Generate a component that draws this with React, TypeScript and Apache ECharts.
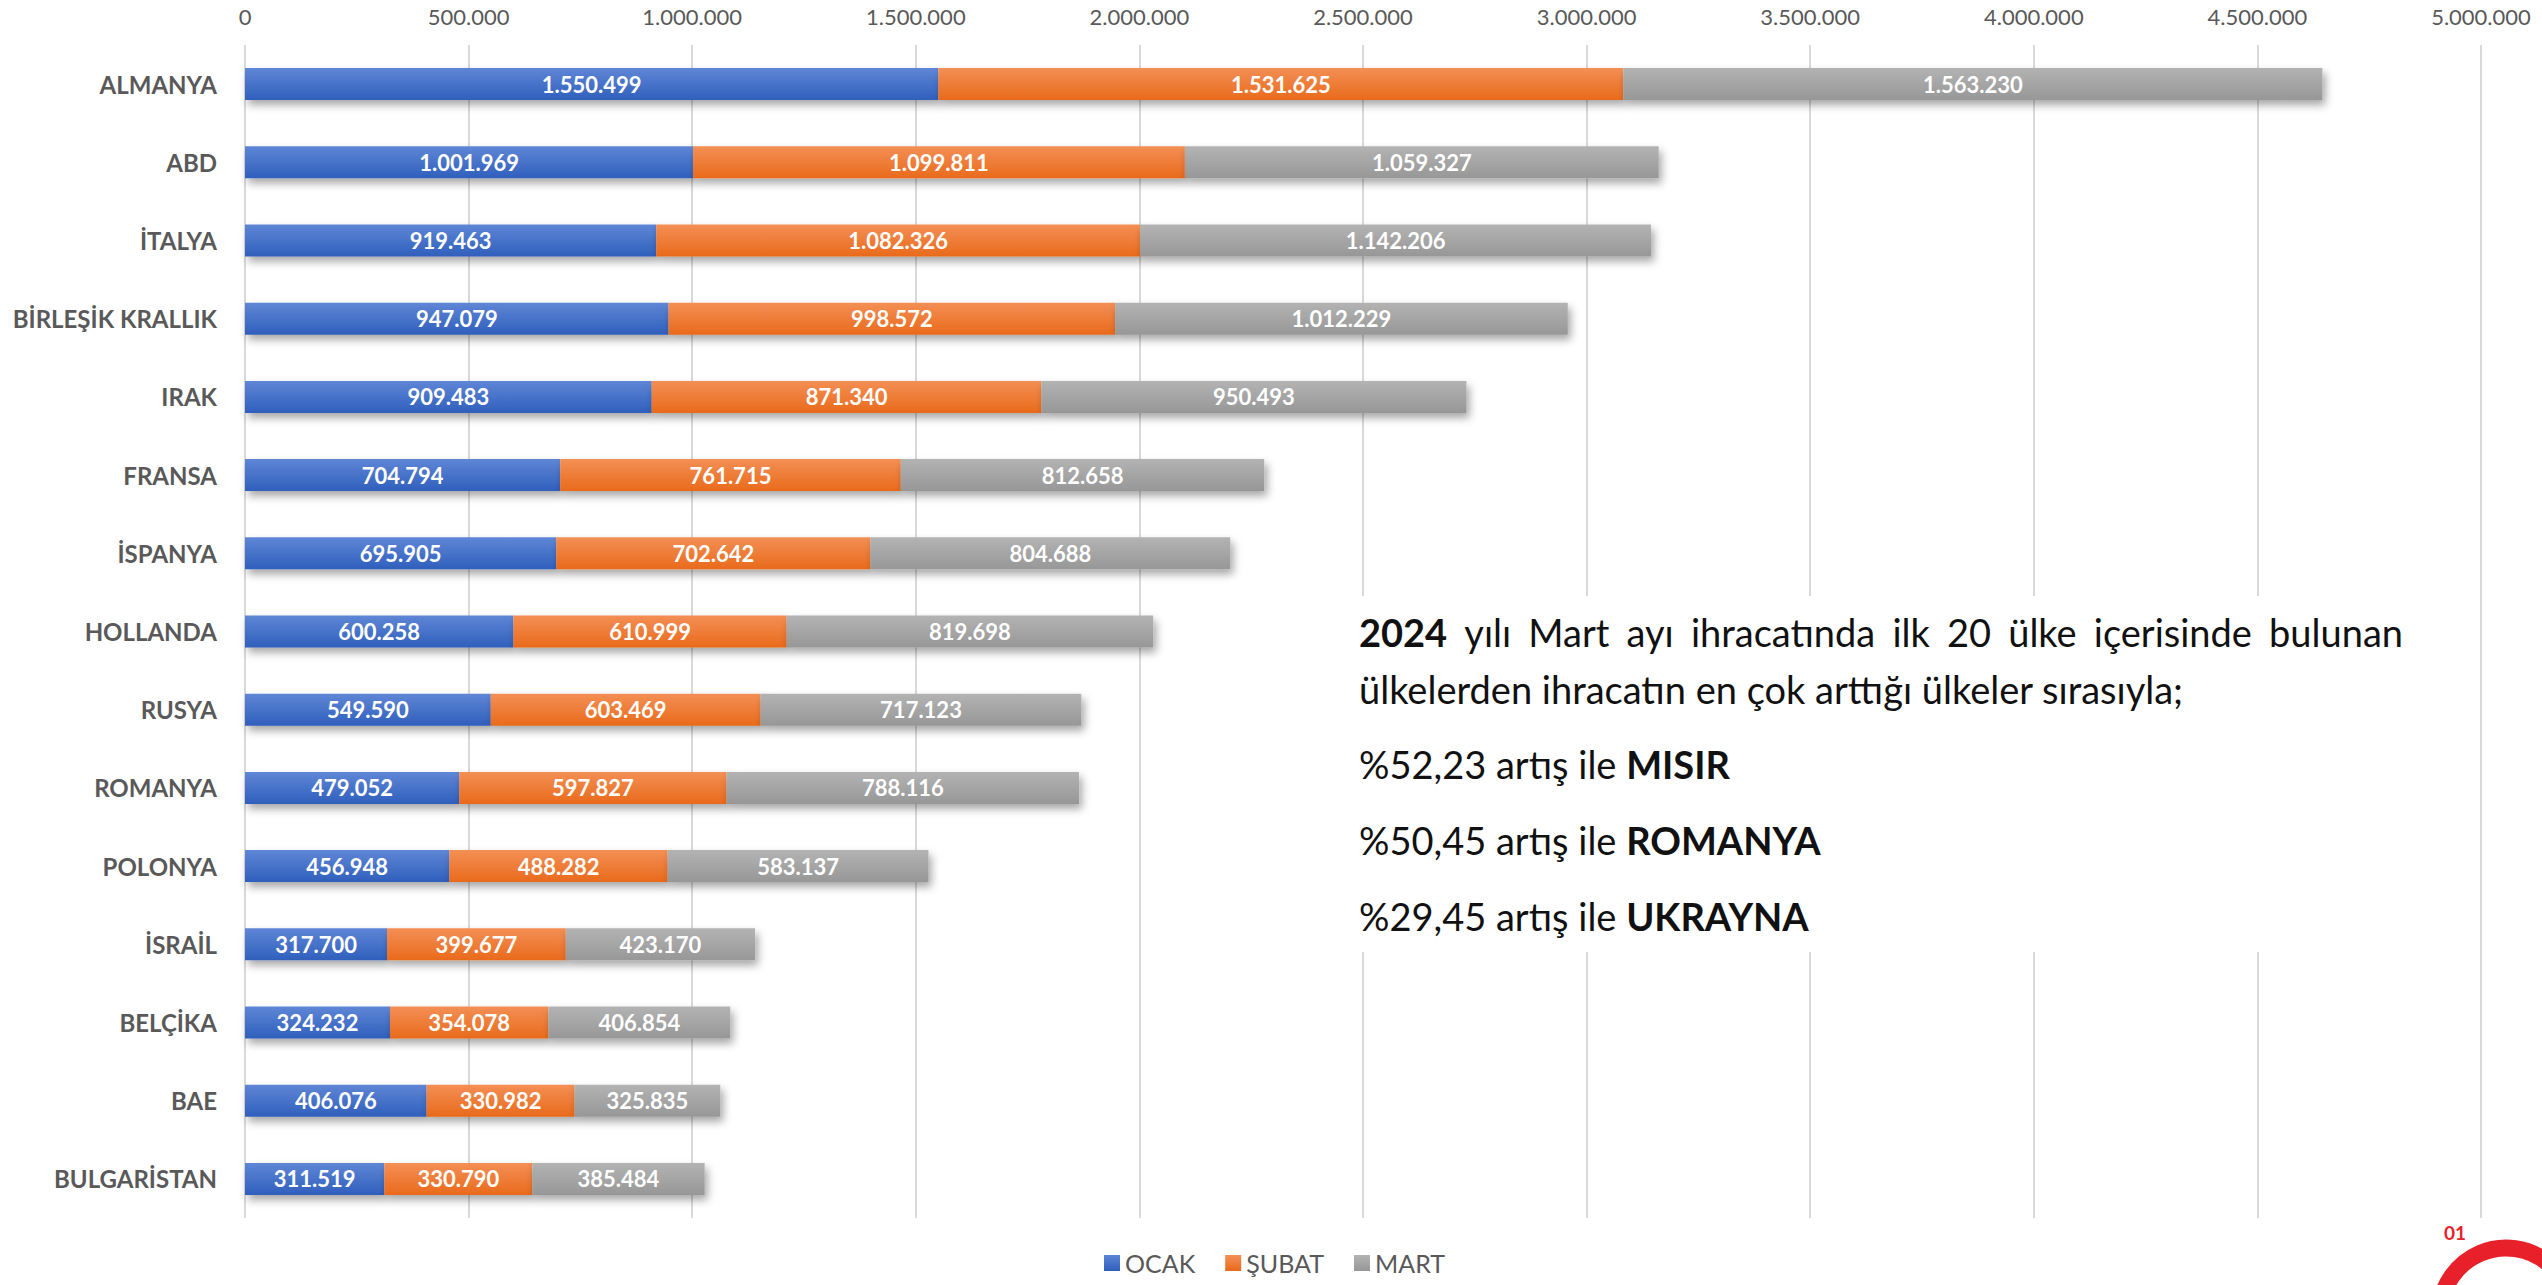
import React, { useEffect, useRef } from "react";
import * as echarts from "echarts";

const categories = [
  "ALMANYA", "ABD", "İTALYA", "BİRLEŞİK KRALLIK", "IRAK", "FRANSA", "İSPANYA",
  "HOLLANDA", "RUSYA", "ROMANYA", "POLONYA", "İSRAİL", "BELÇİKA", "BAE", "BULGARİSTAN",
];
const ocak = [1550499, 1001969, 919463, 947079, 909483, 704794, 695905, 600258, 549590, 479052, 456948, 317700, 324232, 406076, 311519];
const subat = [1531625, 1099811, 1082326, 998572, 871340, 761715, 702642, 610999, 603469, 597827, 488282, 399677, 354078, 330982, 330790];
const mart = [1563230, 1059327, 1142206, 1012229, 950493, 812658, 804688, 819698, 717123, 788116, 583137, 423170, 406854, 325835, 385484];
const seriesNames = ["OCAK", "ŞUBAT", "MART"];

// first line is justified: words with bold flags
const noteFirstLine = "2024 yılı Mart ayı ihracatında ilk 20 ülke içerisinde bulunan";
const noteFirstBold = ["2024"];
const noteOtherLines = [
  "ülkelerden ihracatın en çok arttığı ülkeler sırasıyla;",
  "%52,23 artış ile {b|MISIR}",
  "%50,45 artış ile {b|ROMANYA}",
  "%29,45 artış ile {b|UKRAYNA}",
];

const FONT = "Lato, 'Open Sans', sans-serif";
const NOTE_SIZE = 38;

const fmt = (v: number) => String(Math.round(v)).replace(/\B(?=(\d{3})+(?!\d))/g, ".");

export default function App() {
  const ref = useRef<HTMLDivElement>(null);
  useEffect(() => {
    if (!ref.current) return;
    const chart = echarts.init(ref.current, undefined, { renderer: "svg" });
    const grad = (a: string, b: string) =>
      new echarts.graphic.LinearGradient(0, 0, 0, 1, [
        { offset: 0, color: a },
        { offset: 1, color: b },
      ]);
    const colors = [
      grad("#5f86d6", "#2f5fbc"),
      grad("#f38f55", "#e96a1b"),
      grad("#b3b3b3", "#979797"),
    ];
    const datasets = [ocak, subat, mart];

    // justified first line
    const canvas = document.createElement("canvas");
    const ctx = canvas.getContext("2d")!;
    const words = noteFirstLine.split(" ");
    const widths = words.map((w) => {
      ctx.font = `${noteFirstBold.includes(w) ? "bold " : ""}${NOTE_SIZE}px Lato`;
      return ctx.measureText(w).width;
    });
    const x0 = 1359;
    const x1 = 2403;
    const total = widths.reduce((a, b) => a + b, 0);
    const gap = (x1 - x0 - total) / (words.length - 1);
    let cx = x0;
    const firstLineEls = words.map((w, i) => {
      const el = {
        type: "text",
        z: 101,
        x: cx,
        y: 632,
        style: {
          text: w,
          fontSize: NOTE_SIZE,
          fontFamily: FONT,
          fontWeight: noteFirstBold.includes(w) ? "bold" : "normal",
          fill: "#111111",
          verticalAlign: "middle",
          align: "left",
        },
      };
      cx += widths[i] + gap;
      return el;
    });
    const lineYs = [689, 764, 840, 916];

    chart.setOption({
      animation: false,
      backgroundColor: "#ffffff",
      textStyle: { fontFamily: FONT },
      grid: { left: 245, right: 61, top: 45, bottom: 67, containLabel: false },
      legend: {
        data: seriesNames,
        left: 1104,
        top: 1249,
        padding: 0,
        itemWidth: 16,
        itemHeight: 16,
        itemGap: 30,
        icon: "rect",
        textStyle: { fontSize: 25, lineHeight: 28, color: "#595959", fontFamily: FONT },
      },
      xAxis: {
        type: "value",
        position: "top",
        min: 0,
        max: 5000000,
        interval: 500000,
        axisLine: { show: false },
        axisTick: { show: false },
        splitLine: { show: true, lineStyle: { color: "#d9d9d9", width: 2 } },
        axisLabel: {
          formatter: (v: number) => fmt(v),
          fontSize: 22,
          color: "#595959",
          margin: 18,
          fontFamily: FONT,
        },
      },
      yAxis: {
        type: "category",
        data: categories,
        inverse: true,
        axisLine: { show: false },
        axisTick: { show: false },
        axisLabel: {
          fontSize: 24,
          fontWeight: "bold",
          color: "#595959",
          margin: 28,
          fontFamily: FONT,
        },
      },
      series: seriesNames.map((name, i) => ({
        name,
        type: "bar",
        stack: "total",
        barWidth: 32,
        data: datasets[i],
        itemStyle: {
          color: colors[i],
          shadowBlur: 8,
          shadowColor: "rgba(0,0,0,0.35)",
          shadowOffsetX: 3,
          shadowOffsetY: 5,
        },
        label: {
          show: true,
          position: "inside",
          color: "#ffffff",
          fontWeight: "bold",
          fontSize: 22,
          fontFamily: FONT,
          formatter: (p: any) => fmt(p.value),
        },
      })),
      graphic: [
        {
          type: "rect",
          z: 100,
          shape: { x: 1340, y: 596, width: 1080, height: 356 },
          style: { fill: "#ffffff" },
        },
        ...firstLineEls,
        ...noteOtherLines.map((t, i) => ({
          type: "text",
          z: 101,
          x: x0,
          y: lineYs[i],
          style: {
            text: t,
            fontSize: NOTE_SIZE,
            fontFamily: FONT,
            fill: "#111111",
            verticalAlign: "middle",
            align: "left",
            rich: { b: { fontWeight: "bold", fontSize: NOTE_SIZE, fontFamily: FONT, fill: "#111111" } },
          },
        })),
        {
          type: "text",
          z: 101,
          x: 2455,
          y: 1232,
          style: {
            text: "01",
            fontSize: 19,
            fontWeight: "bold",
            fill: "#e8202a",
            align: "center",
            verticalAlign: "middle",
            fontFamily: FONT,
          },
        },
        {
          type: "arc",
          z: 101,
          shape: { cx: 2506, cy: 1314, r: 66, startAngle: Math.PI * 1.02, endAngle: Math.PI * 1.72, clockwise: true },
          style: { stroke: "#e8202a", lineWidth: 17, fill: "none" },
        },
      ],
    });
    return () => chart.dispose();
  }, []);
  return (
    <div
      ref={ref}
      style={{ position: "fixed", left: 0, top: 0, width: 2542, height: 1285, background: "#fff" }}
    />
  );
}
